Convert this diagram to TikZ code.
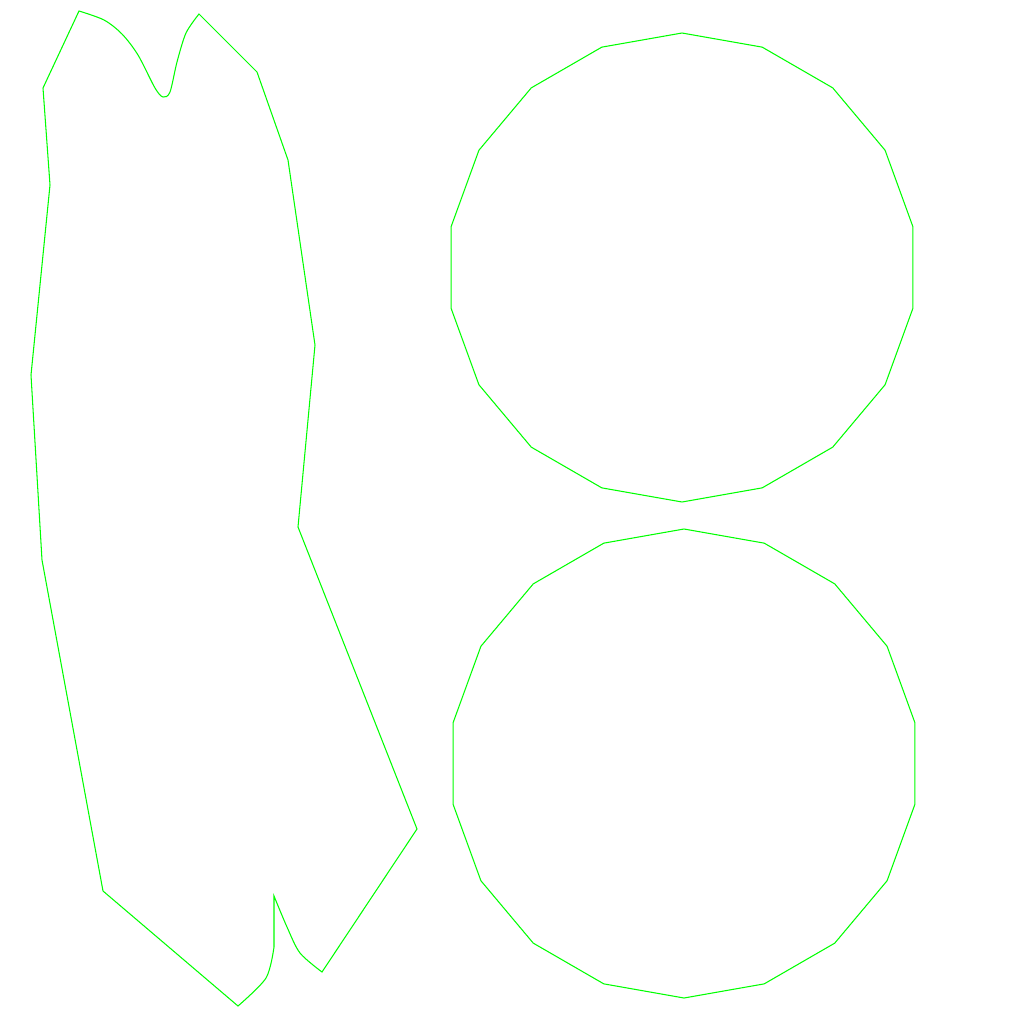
\documentclass[tikz,border=0pt]{standalone}
\begin{document}
\begin{tikzpicture}[
    x=0.01cm, y=-0.01cm,
    outline/.style={draw=green, line width=0.3pt, line join=miter},
  ]
% --- canvas
\useasboundingbox (0,0) rectangle (1024,1024);
% --- disc centres and radius
\def\rad{234.5}
\coordinate (topc) at (682,267.5);
\coordinate (botc) at (684,763.5);

% Left blob
\draw[outline] (79,11)
  -- plot[smooth, tension=0.5] coordinates {(79,11) (104,20) (122,34) (138,55) (155,88) (163,97) (170,92) (177,62) (186,33) (199,14)}
  -- (257,72) -- (288,160) -- (315,345) -- (298,527) -- (417,829) -- (322,972)
  -- plot[smooth, tension=0.5] coordinates {(322,972) (300,953) (287,927) (274,896)}
  -- (274,947)
  -- plot[smooth, tension=0.5] coordinates {(274,947) (266,978) (238,1006)}
  -- (103,891) -- (42,560) -- (31,375) -- (50,185) -- (43,88) -- cycle;

% Upper disc (18 sides)
\draw[outline, shift={(topc)}] (90:\rad)
  \foreach \a in {110,130,...,430} { -- (\a:\rad) } -- cycle;

% Lower disc (18 sides)
\draw[outline, shift={(botc)}] (90:\rad)
  \foreach \a in {110,130,...,430} { -- (\a:\rad) } -- cycle;
\end{tikzpicture}
\end{document}
